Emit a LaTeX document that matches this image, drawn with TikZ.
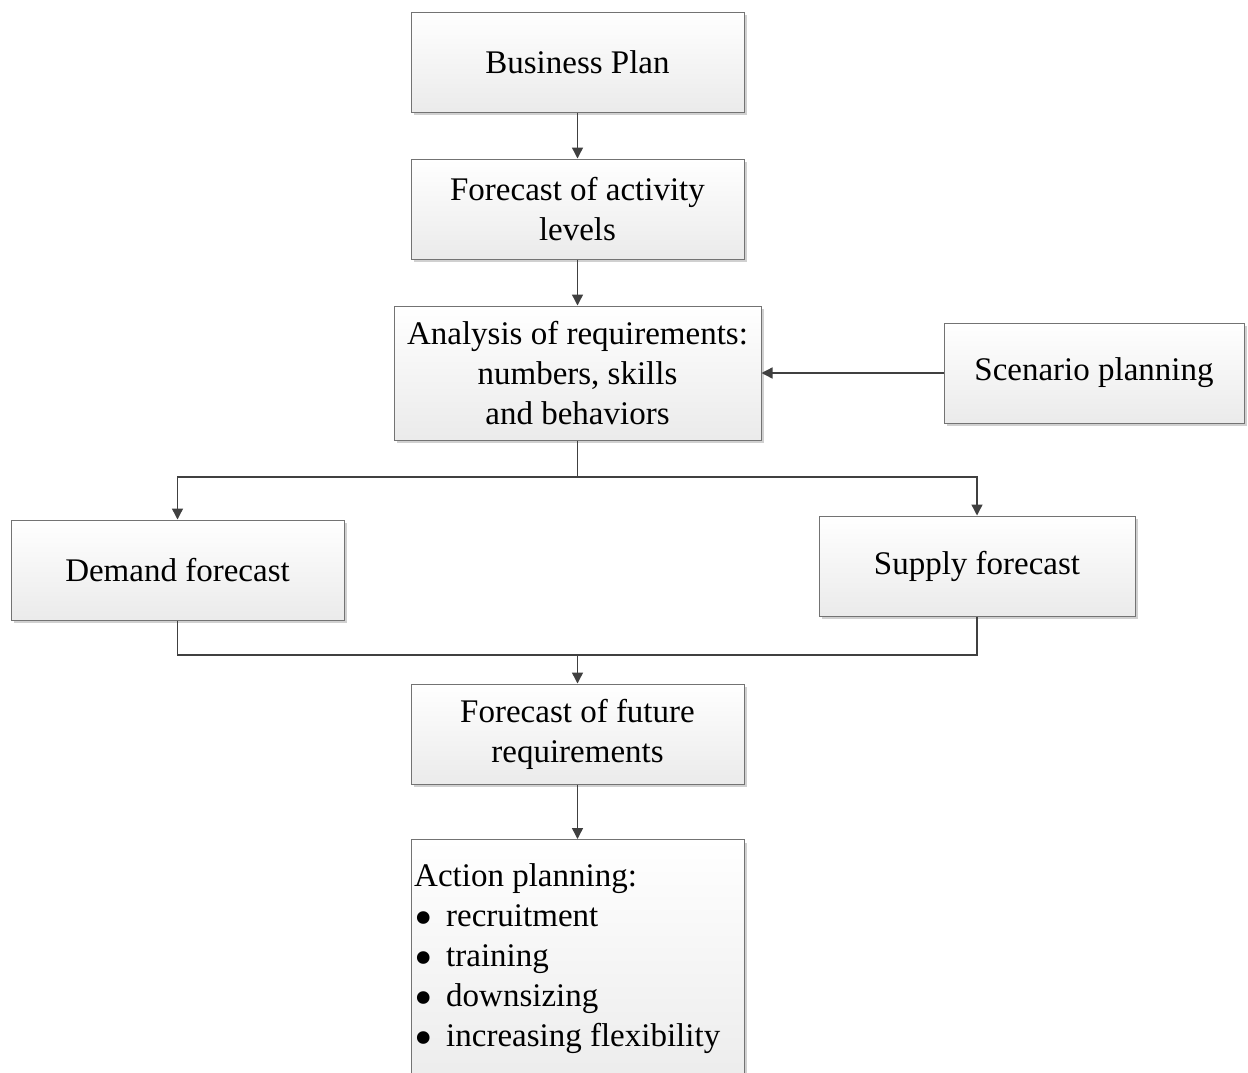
\documentclass[tikz,border=0pt]{standalone}
\usepackage{fontspec}
\setmainfont{Liberation Serif}
\usetikzlibrary{shadows,arrows.meta}
\newcommand{\bigbul}{\makebox[32pt][l]{\raisebox{-9pt}[0pt][0pt]{\scalebox{1.6}{\textbullet}}}}
\begin{document}
\begin{tikzpicture}[x=1pt,y=-1pt,
  box/.style={draw=black!55, line width=1pt, top color=white, bottom color=black!8,
    minimum width=#1, inner sep=0pt, align=center, font=\fontsize{33}{40}\selectfont,
    drop shadow={shadow xshift=3pt, shadow yshift=-3pt, fill=black!30, opacity=0.6}},
  conn/.style={draw=black!75, line width=1.4pt},
  arr/.style={conn, -{Triangle[length=11pt,width=11pt]}}]
\clip (0,0) rectangle (1248,1072);
\fill[white] (0,0) rectangle (1248,1072);
\node[box=333pt, minimum height=100pt] (bp) at (577.5,62) {Business Plan};
\node[box=333pt, minimum height=100pt] (fal) at (577.5,209) {Forecast of activity\\levels};
\node[box=367pt, minimum height=134pt] (ana) at (577.5,373) {Analysis of requirements:\\numbers, skills\\and behaviors};
\node[box=300pt, minimum height=100pt] (sp) at (1094,373) {Scenario planning};
\node[box=333pt, minimum height=100pt] (df) at (177.5,570) {Demand forecast};
\node[box=316pt, minimum height=100pt] (sf) at (977,566) {Supply forecast};
\node[box=333pt, minimum height=100pt] (ffr) at (577.5,734) {Forecast of future\\requirements};
\node[box=333pt, minimum height=260pt, anchor=north] (act) at (577.5,839) {};
\node[anchor=north west, inner sep=0pt, align=left, font=\fontsize{33}{40}\selectfont] (acttext) at (414,863)
  {Action planning:\\
   \bigbul recruitment\\
   \bigbul training\\
   \bigbul downsizing\\
   \bigbul increasing flexibility};
\coordinate (split) at (577.5,477);
\coordinate (join) at (577.5,655);
\draw[arr] (bp) -- (fal);
\draw[arr] (fal) -- (ana);
\draw[arr] (sp) -- (ana.east |- sp);
\draw[conn] (ana.south) -- (split);
\draw[arr] (split) -| (df.north);
\draw[arr] (split) -| (sf.north);
\draw[conn] (df.south) |- (join);
\draw[conn] (sf.south) |- (join);
\draw[arr] (join) -- (ffr.north);
\draw[arr] (ffr) -- (act);
\end{tikzpicture}
\end{document}
